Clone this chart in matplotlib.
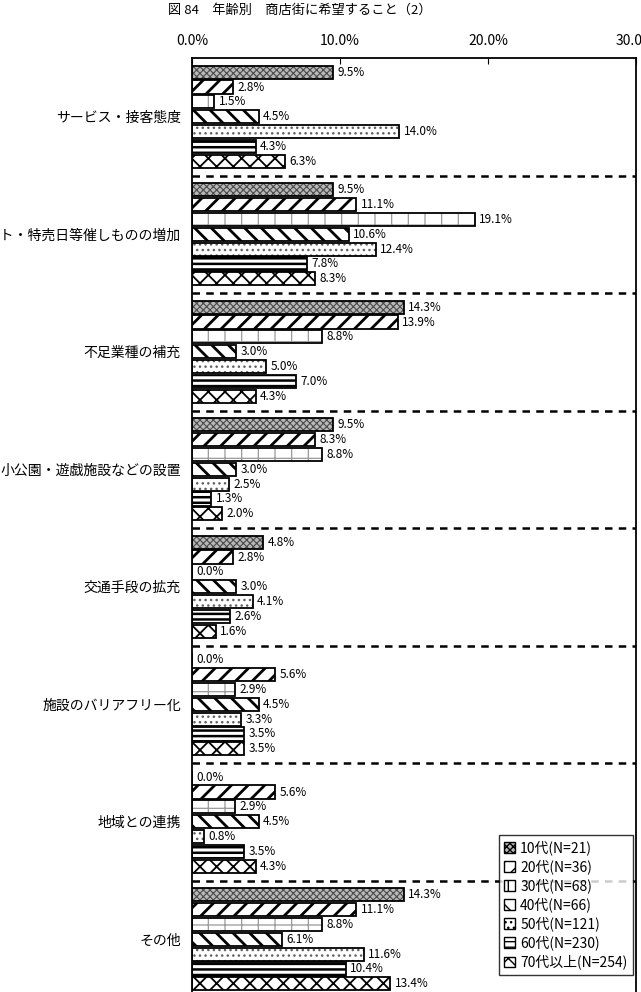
import matplotlib
matplotlib.use("Agg")
import matplotlib.pyplot as plt
from matplotlib.patches import Patch
import numpy as np

plt.rcParams['font.family'] = ['Noto Sans CJK JP', 'DejaVu Sans']
plt.rcParams['hatch.linewidth'] = 2.0

categories = ["サービス・接客態度", "イベント・特売日等催しものの増加", "不足業種の補充",
              "小公園・遊戯施設などの設置", "交通手段の拡充", "施設のバリアフリー化",
              "地域との連携", "その他"]
series_names = ["10代(N=21)", "20代(N=36)", "30代(N=68)", "40代(N=66)",
                "50代(N=121)", "60代(N=230)", "70代以上(N=254)"]
v10 = [9.5, 9.5, 14.3, 9.5, 4.8, 0.0, 0.0, 14.3]
v20 = [2.8, 11.1, 13.9, 8.3, 2.8, 5.6, 5.6, 11.1]
v30 = [1.5, 19.1, 8.8, 8.8, 0.0, 2.9, 2.9, 8.8]
v40 = [4.5, 10.6, 3.0, 3.0, 3.0, 4.5, 4.5, 6.1]
v50 = [14.0, 12.4, 5.0, 2.5, 4.1, 3.3, 0.8, 11.6]
v60 = [4.3, 7.8, 7.0, 1.3, 2.6, 3.5, 3.5, 10.4]
v70 = [6.3, 8.3, 4.3, 2.0, 1.6, 3.5, 4.3, 13.4]
values = [v10, v20, v30, v40, v50, v60, v70]
xticks = [0, 10, 20, 30]
xticklabels = ["0.0%", "10.0%", "20.0%", "30.0%"]

# style: (facecolor, hatch, hatchcolor, hatch linewidth)
styles = [
    ('#b8b8b8', 'xxxxx', '#4a4a4a', 0.8),
    ('white', '//', 'black', 2.0),
    ('white', '+', '#9a9a9a', 0.9),
    ('white', '\\\\', 'black', 2.0),
    ('white', '...', '#606060', 1.0),
    ('white', '---', 'black', 1.8),
    ('white', 'xx', 'black', 1.3),
]

fig = plt.figure(figsize=(6.41, 9.92), dpi=100)
ax = fig.add_axes([192/641, 1 - 998/992, 444/641, 940/992])


def set_hlw(patches, lw):
    for p in patches:
        if hasattr(p, 'set_hatch_linewidth'):
            p.set_hatch_linewidth(lw)


n = len(categories)
y = np.arange(n)
pitch = 0.1265
h = 0.112
for j, vals in enumerate(values):
    fc, hatch, hc, hlw = styles[j]
    plt.rcParams['hatch.linewidth'] = hlw
    ys = y + (j - 3) * pitch
    bars = ax.barh(ys, vals, height=h, color=fc, hatch=hatch, edgecolor=hc, linewidth=0, zorder=2)
    set_hlw(bars, hlw)
    ax.barh(ys, vals, height=h, color='none', edgecolor='black', linewidth=1.3, zorder=3)
    for yy, v in zip(ys, vals):
        ax.text(v + 0.3, yy, f"{v:.1f}%", va='center', ha='left', fontsize=8.5, zorder=4)
plt.rcParams['hatch.linewidth'] = 1.0

for i in range(n - 1):
    ax.axhline(i + 0.5, color='black', linestyle=(0, (3, 2.5)), linewidth=1.8, zorder=1)

ax.set_xlim(0, 30)
ax.set_ylim(n - 0.5, -0.5)
ax.set_yticks(y)
ax.set_yticklabels(categories, fontsize=10)
ax.tick_params(axis='y', length=0, pad=8)
ax.xaxis.tick_top()
ax.set_xticks(xticks)
ax.set_xticklabels(xticklabels, fontsize=10)
ax.tick_params(axis='x', direction='in', length=4, pad=7, top=True, bottom=False)
for s in ax.spines.values():
    s.set_linewidth(1.3)
    s.set_color('black')

handles = []
for j, name in enumerate(series_names):
    fc, hatch, hc, hlw = styles[j]
    handles.append(Patch(facecolor=fc, hatch=hatch, edgecolor='black', linewidth=1.0, label=name))
leg = fig.legend(handles=handles, loc='lower right', bbox_to_anchor=(633/641, 17/992),
                 fontsize=10, frameon=True, fancybox=False, edgecolor='black',
                 handlelength=0.75, handleheight=0.75, handletextpad=0.4,
                 labelspacing=0.3, borderpad=0.4, borderaxespad=0)
leg.get_frame().set_linewidth(1.0)

fig.text(300/641, 1 - 10/992, "図 84　年齢別　商店街に希望すること（2）", ha='center', va='center', fontsize=9.5)

fig.savefig("out.png", dpi=100)
